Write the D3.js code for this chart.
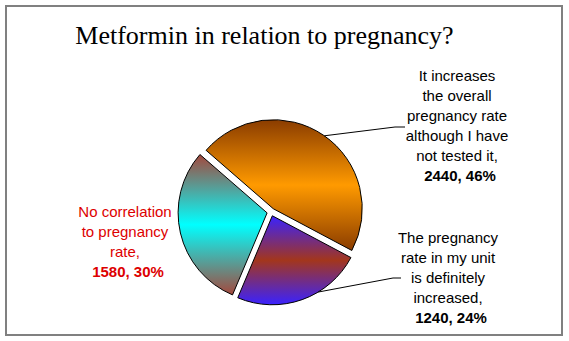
<!DOCTYPE html>
<html><head><meta charset="utf-8">
<script src="https://cdn.jsdelivr.net/npm/d3@7"></script>
<style>html,body{margin:0;padding:0;background:#fff;}svg{display:block;}</style>
</head><body>
<script>
// ---- data ----
const categories = [
  "It increases the overall pregnancy rate although I have not tested it",
  "The pregnancy rate in my unit is definitely increased",
  "No correlation to pregnancy rate"
];
const values = [2440, 1240, 1580];
const labelLines = [
  ["It increases", "the overall", "pregnancy rate", "although I have", "not tested it,"],
  ["The pregnancy", "rate in my unit", "is definitely", "increased,"],
  ["No correlation", "to pregnancy", "rate,"]
];
const title = "Metformin in relation to pregnancy?";

// ---- layout ----
const W = 569, H = 341;
const svg = d3.select("body").append("svg").attr("width", W).attr("height", H);
svg.append("rect").attr("x", 6).attr("y", 6).attr("width", 556).attr("height", 329)
  .attr("fill", "#fff").attr("stroke", "#808080").attr("stroke-width", 2);

svg.append("text").attr("x", 264.5).attr("y", 44).attr("text-anchor", "middle")
  .attr("font-family", "'Liberation Serif','Times New Roman',serif").attr("font-size", 26)
  .attr("fill", "#000").text(title);

const cx = 271, cy = 212, R = 89, explode = 4;
const deg = Math.PI / 180;
const pie = d3.pie().sort(null).startAngle(-49 * deg).endAngle(311 * deg);
const arcs = pie(values);
const arc = d3.arc().innerRadius(0).outerRadius(R);

const grads = [
  ["#8a3c00", "#ff9a00", "#8a3c00"],
  ["#3a22ff", "#a3361c", "#3a22ff"],
  ["#a4483c", "#00ffff", "#a4483c"]
];
const defs = svg.append("defs");
grads.forEach((g, i) => {
  const lg = defs.append("linearGradient").attr("id", "g" + i)
    .attr("x1", 0).attr("y1", 0).attr("x2", 0).attr("y2", 1);
  lg.append("stop").attr("offset", "0%").attr("stop-color", g[0]);
  lg.append("stop").attr("offset", "50%").attr("stop-color", g[1]);
  lg.append("stop").attr("offset", "100%").attr("stop-color", g[2]);
});

const offs = arcs.map(a => {
  const m = (a.startAngle + a.endAngle) / 2;
  return [explode * Math.sin(m), -explode * Math.cos(m)];
});

arcs.forEach((a, i) => {
  svg.append("path")
    .attr("transform", `translate(${cx + offs[i][0]},${cy + offs[i][1]})`)
    .attr("d", arc(a))
    .attr("fill", `url(#g${i})`)
    .attr("stroke", "#000").attr("stroke-width", 1);
});

// leader lines
const leaderAngles = [35, 149];
const leaderEnds = [[[395, 127], [405, 127]], [[393, 278], [401, 278]]];
leaderAngles.forEach((ang, i) => {
  const sx = cx + offs[i][0] + R * Math.sin(ang * deg);
  const sy = cy + offs[i][1] - R * Math.cos(ang * deg);
  const pts = [[sx, sy]].concat(leaderEnds[i]);
  svg.append("path").attr("d", d3.line()(pts)).attr("fill", "none")
    .attr("stroke", "#000").attr("stroke-width", 1);
});

// labels
const total = d3.sum(values);
const labelPos = [[457, 81], [448, 243], [125, 217]];
const labelColor = ["#000", "#000", "#dd0000"];
labelLines.forEach((lines, i) => {
  const g = svg.append("text").attr("text-anchor", "middle")
    .attr("font-family", "'Liberation Sans',Arial,sans-serif").attr("font-size", 15)
    .attr("fill", labelColor[i]);
  lines.forEach((l, j) => {
    g.append("tspan").attr("x", labelPos[i][0]).attr("y", labelPos[i][1] + j * 20).text(l);
  });
  g.append("tspan").attr("x", labelPos[i][0] + 3).attr("y", labelPos[i][1] + lines.length * 20)
    .attr("font-weight", "bold")
    .text(`${values[i]}, ${Math.round(values[i] / total * 100)}%`);
});
</script>
</body></html>
